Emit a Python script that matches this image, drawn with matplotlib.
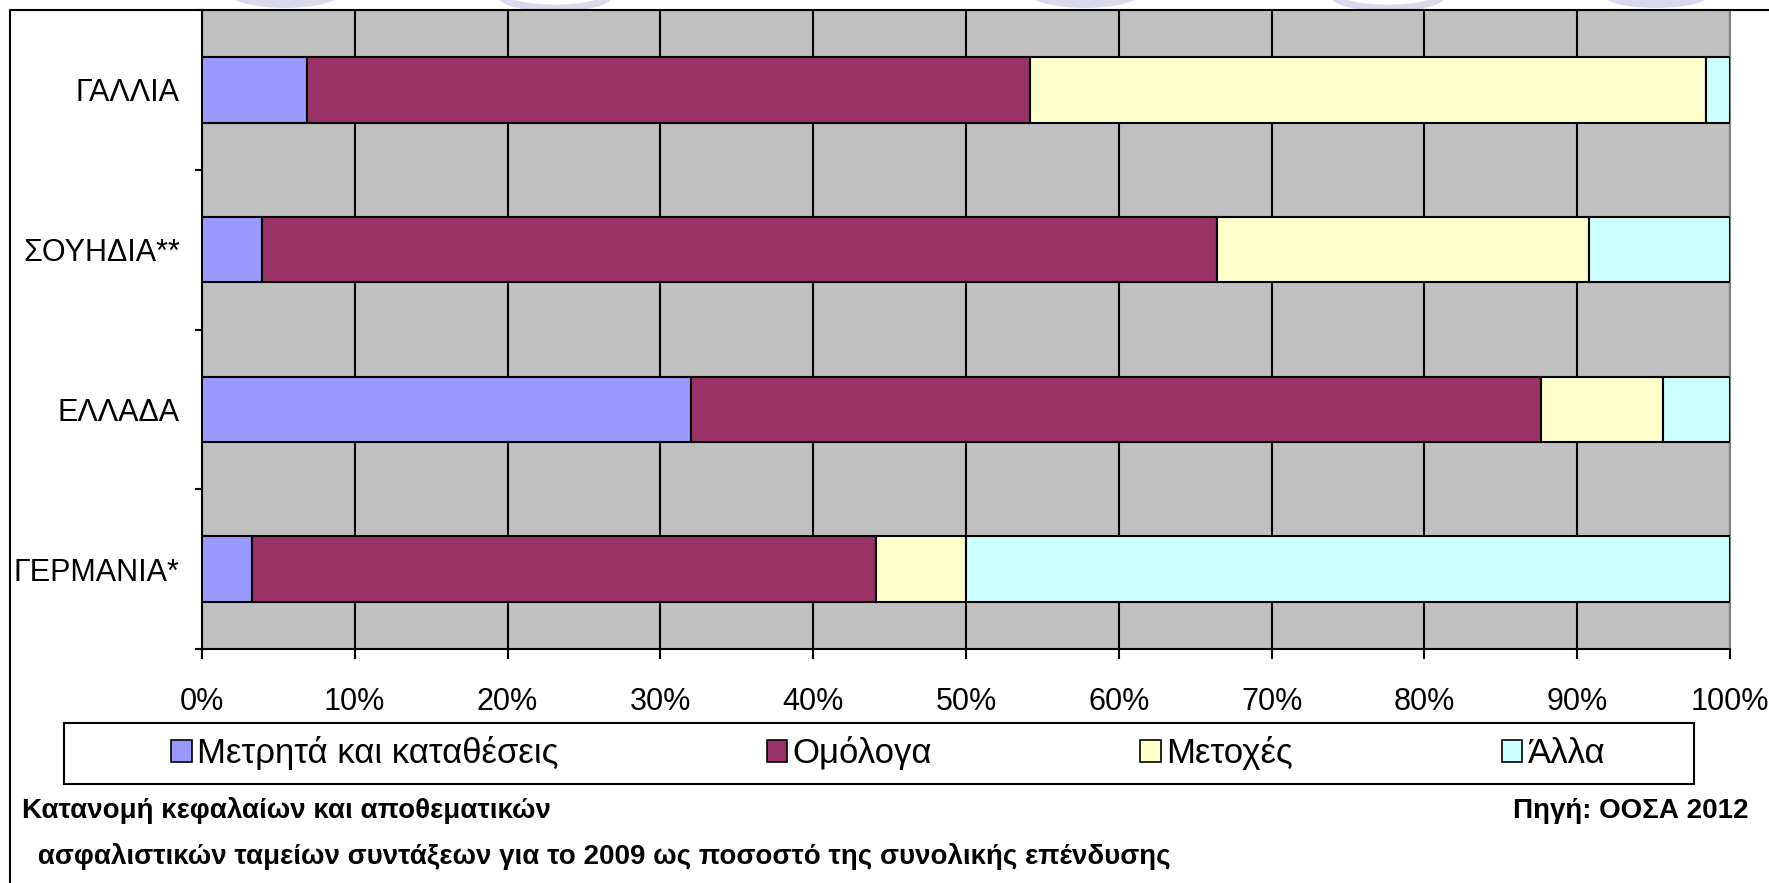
import numpy as np
import matplotlib.pyplot as plt
from matplotlib.patches import Rectangle, Patch, Ellipse
from matplotlib.lines import Line2D
from matplotlib.ticker import FixedLocator

plt.rcParams['font.family'] = ['Liberation Sans Narrow', 'Liberation Sans', 'DejaVu Sans']

# data (percent of total investment), bottom to top
countries = ['ΓΕΡΜΑΝΙΑ*', 'ΕΛΛΑΔΑ', 'ΣΟΥΗΔΙΑ**', 'ΓΑΛΛΙΑ']
series_names = ['Μετρητά και καταθέσεις', 'Ομόλογα', 'Μετοχές', 'Άλλα']
cash = [3.3, 32.0, 3.9, 6.9]
bonds = [40.8, 55.6, 62.5, 47.3]
shares = [5.9, 8.0, 24.4, 44.2]
other = [50.0, 4.4, 9.2, 1.6]
colors = ['#9999FF', '#993366', '#FFFFCC', '#CCFFFF']
xticks = [0, 10, 20, 30, 40, 50, 60, 70, 80, 90, 100]
xtick_labels = ['0%', '10%', '20%', '30%', '40%', '50%', '60%', '70%', '80%', '90%', '100%']

W, H = 1769, 883
fig = plt.figure(figsize=(W / 100, H / 100), dpi=100)

# faint watermark remnants peeking above the chart border
wm = '#D9D9EE'
for cx, ring in [(285, False), (555, True), (1085, False), (1388, True), (1656, False)]:
    if ring:
        e = Ellipse((cx / W, 1 + 5 / H), 108 / W, 26 / H, transform=fig.transFigure,
                    facecolor='none', edgecolor=wm, linewidth=5, zorder=0)
    else:
        e = Ellipse((cx / W, 1 + 7 / H), 112 / W, 30 / H, transform=fig.transFigure,
                    facecolor=wm, edgecolor='none', zorder=0)
    fig.add_artist(e)

ax = fig.add_axes([202 / W, 1 - 649 / H, (1730 - 202) / W, (649 - 10) / H])
ax.set_facecolor('#C0C0C0')

y = np.arange(len(countries))
left = np.zeros(len(countries))
for vals, c, name in zip([cash, bonds, shares, other], colors, series_names):
    ax.barh(y, vals, left=left, height=0.41, color=c, edgecolor='black',
            linewidth=1.5, label=name, zorder=3)
    left += np.array(vals)

ax.set_xlim(0, 100)
ax.set_ylim(-0.5, len(countries) - 0.5)
ax.set_xticks(xticks)
ax.set_xticklabels(xtick_labels)
ax.set_yticks(y)
ax.set_yticklabels(countries)
ax.yaxis.set_minor_locator(FixedLocator(np.arange(-0.5, len(countries), 1.0)))
ax.tick_params(axis='y', which='major', length=0, pad=16, labelsize=22)
ax.tick_params(axis='y', which='minor', length=5, width=1.5, direction='out')
ax.tick_params(axis='x', length=7, width=1.5, direction='out', pad=20, labelsize=22)

ax.grid(axis='x', color='black', linewidth=1.5, zorder=1)
ax.set_axisbelow(True)
for s in ['left', 'bottom']:
    ax.spines[s].set_linewidth(1.5)
    ax.spines[s].set_color('black')
ax.spines['right'].set_color('#808080')
ax.spines['right'].set_linewidth(1.5)
ax.spines['top'].set_visible(False)

# outer chart border (left and top edges)
fig.add_artist(Line2D([10 / W, 10 / W, 1.0], [0.0, 1 - 10 / H, 1 - 10 / H],
                      color='black', linewidth=1.5, transform=fig.transFigure))

# legend box
fig.add_artist(Rectangle((64 / W, 1 - 784 / H), (1694 - 64) / W, (784 - 723) / H,
                         transform=fig.transFigure, facecolor='white',
                         edgecolor='black', linewidth=1.5, zorder=2))
handles = [Patch(facecolor=c, edgecolor='black', linewidth=1.2) for c in colors]
leg = fig.legend(handles, series_names, loc='center', bbox_to_anchor=(888 / W, 1 - 753 / H),
                 ncol=4, frameon=False, fontsize=25, handlelength=0.6, handleheight=0.6,
                 handletextpad=0.15, columnspacing=6.0)
leg.set_zorder(3)

fig.text(22 / W, 1 - 811 / H, 'Κατανομή κεφαλαίων και αποθεματικών',
         fontsize=20, fontweight='bold', ha='left', va='center')
fig.text(30 / W, 1 - 856 / H, ' ασφαλιστικών ταμείων συντάξεων για το 2009 ως ποσοστό της συνολικής επένδυσης',
         fontsize=20, fontweight='bold', ha='left', va='center')
fig.text(1748 / W, 1 - 811 / H, 'Πηγή: ΟΟΣΑ 2012',
         fontsize=20, fontweight='bold', ha='right', va='center')

fig.savefig('out.png', dpi=100, facecolor='white')
